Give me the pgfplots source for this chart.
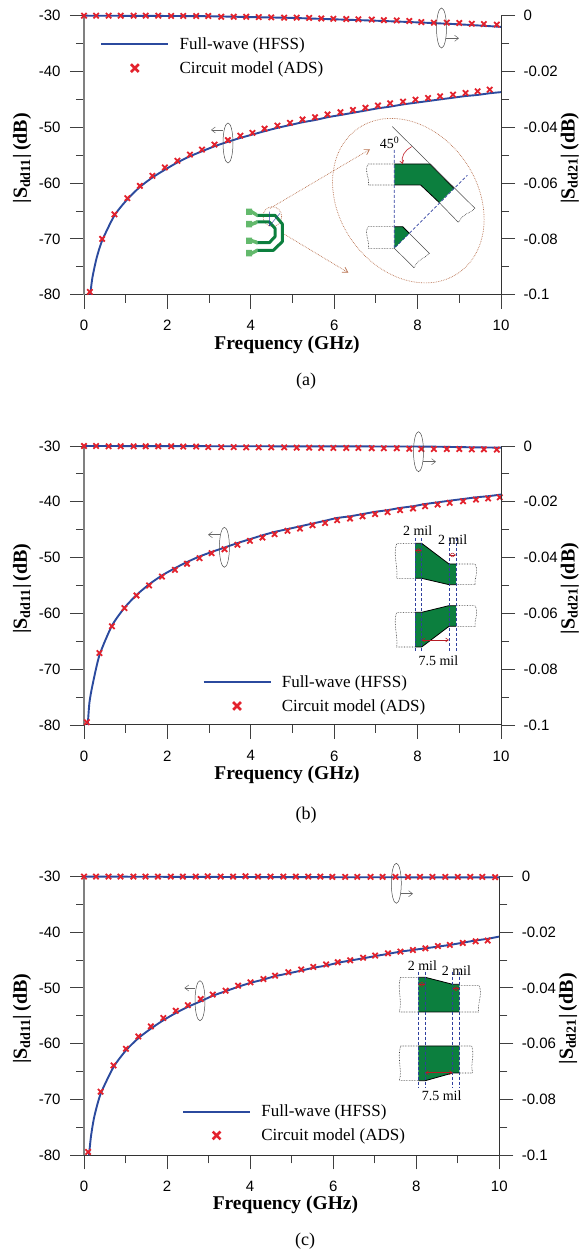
\documentclass[border=0pt]{standalone}
\usepackage{fontspec}
\usepackage{pgfplots}
\usepackage{pgfplotstable}
\pgfplotsset{compat=1.18}
\usetikzlibrary{arrows.meta}
\setmainfont{Liberation Serif}
\newfontfamily\arial{Liberation Sans}
\definecolor{wave}{HTML}{2B4A9E}
\definecolor{adsred}{HTML}{E3222D}
\definecolor{trace}{HTML}{0C7F3E}
\definecolor{pale}{HTML}{63B96C}
\definecolor{brownline}{HTML}{B8714F}
\definecolor{guide}{HTML}{2F3F9F}

% ---------- panel (a)
\pgfplotstableread[row sep=\\]{x y\\
0.15 -80\\0.2 -77\\0.3 -73.5\\0.435 -70.3\\0.73 -65.8\\1.04 -62.9\\1.34 -60.7\\1.64 -59\\1.94 -57.6\\2.24 -56.3\\2.54 -55.2\\2.83 -54.3\\3.13 -53.4\\3.45 -52.6\\3.75 -51.9\\4.04 -51.3\\4.33 -50.7\\4.64 -50.1\\4.94 -49.6\\5.24 -49.1\\5.54 -48.7\\5.84 -48.2\\6.15 -47.8\\6.45 -47.4\\6.75 -47\\7.05 -46.6\\7.34 -46.3\\7.65 -45.9\\7.95 -45.6\\8.25 -45.3\\8.54 -45\\8.85 -44.7\\9.15 -44.4\\9.44 -44.2\\9.73 -43.9\\10 -43.7\\
}\aLine
\pgfplotstableread[row sep=\\]{x y\\
0.14 -79.5\\0.435 -70\\0.73 -65.6\\1.04 -62.7\\1.34 -60.5\\1.64 -58.7\\1.94 -57.2\\2.24 -56\\2.54 -54.9\\2.83 -54\\3.13 -53.1\\3.45 -52.3\\3.75 -51.5\\4.04 -51\\4.33 -50.25\\4.64 -49.7\\4.94 -49.2\\5.24 -48.6\\5.54 -48.2\\5.84 -47.7\\6.15 -47.3\\6.45 -46.9\\6.75 -46.5\\7.05 -46.1\\7.34 -45.7\\7.65 -45.4\\7.95 -45.05\\8.25 -44.75\\8.54 -44.45\\8.85 -44.15\\9.15 -43.85\\9.44 -43.55\\9.73 -43.25\\
}\aMarks
\pgfplotstableread[row sep=\\]{x y\\
0 0\\2 -0.0001\\3 -0.0002\\4 -0.0005\\5 -0.0008\\6 -0.0013\\7 -0.0018\\8 -0.0024\\9 -0.0031\\10 -0.004\\
}\aTopLine
\pgfplotstableread[row sep=\\]{x y\\
0 0\\0.29 0\\0.59 0\\0.88 0\\1.19 0\\1.48 0\\1.78 0\\2.09 -0.0001\\2.38 -0.0001\\2.69 -0.0001\\2.98 -0.0001\\3.29 -0.0004\\3.59 -0.0004\\3.89 -0.0004\\4.19 -0.0005\\4.49 -0.0006\\4.8 -0.0007\\5.1 -0.0007\\5.4 -0.0008\\5.69 -0.001\\5.98 -0.0011\\6.29 -0.0012\\6.58 -0.0013\\6.9 -0.0014\\7.19 -0.0016\\7.5 -0.0017\\7.8 -0.0019\\8.09 -0.0023\\8.39 -0.0025\\8.7 -0.0025\\9 -0.0026\\9.3 -0.0029\\9.59 -0.003\\9.9 -0.0032\\
}\aTopMarks

% ---------- panel (b)
\pgfplotstableread[row sep=\\]{x y\\
0.09 -80\\0.13 -76\\0.2 -73\\0.37 -67.5\\0.67 -62.2\\0.97 -59\\1.26 -56.7\\1.56 -54.8\\1.87 -53.2\\2.18 -51.9\\2.47 -50.8\\2.77 -49.8\\3.06 -49\\3.37 -48.2\\3.68 -47.4\\3.98 -46.7\\4.28 -46\\4.57 -45.4\\4.88 -44.9\\5.18 -44.4\\5.48 -43.9\\5.78 -43.4\\6.07 -42.9\\6.38 -42.6\\6.68 -42.2\\6.98 -41.8\\7.28 -41.5\\7.58 -41.1\\7.89 -40.8\\8.18 -40.4\\8.48 -40.1\\8.77 -39.8\\9.09 -39.5\\9.4 -39.2\\9.69 -39\\10 -38.7\\
}\bLine
\pgfplotstableread[row sep=\\]{x y\\
0.07 -79.5\\0.37 -67.1\\0.67 -62.3\\0.97 -59.05\\1.26 -56.8\\1.56 -55\\1.87 -53.4\\2.18 -52.2\\2.47 -51.1\\2.77 -50.1\\3.06 -49.2\\3.37 -48.5\\3.68 -47.7\\3.98 -47\\4.28 -46.4\\4.57 -45.8\\4.88 -45.2\\5.18 -44.8\\5.48 -44.2\\5.78 -43.8\\6.07 -43.3\\6.38 -43\\6.68 -42.6\\6.98 -42.2\\7.28 -41.85\\7.58 -41.5\\7.89 -41.2\\8.18 -40.8\\8.48 -40.5\\8.77 -40.2\\9.09 -39.9\\9.4 -39.6\\9.69 -39.4\\9.97 -39.2\\
}\bMarks
\pgfplotstableread[row sep=\\]{x y\\
0 0\\4 -0.0001\\8 -0.0002\\9 -0.0004\\10 -0.0006\\
}\bTopLine
\pgfplotstableread[row sep=\\]{x y\\
0 0\\0.29 0\\0.59 -0.0001\\0.88 -0.0001\\1.19 -0.0001\\1.48 -0.0001\\1.78 -0.0001\\2.09 -0.0001\\2.38 -0.0002\\2.69 -0.0002\\2.98 -0.0004\\3.29 -0.0004\\3.59 -0.0004\\3.89 -0.0005\\4.19 -0.0005\\4.49 -0.0005\\4.8 -0.0005\\5.1 -0.0006\\5.4 -0.0006\\5.69 -0.0007\\5.98 -0.0007\\6.29 -0.0007\\6.58 -0.0007\\6.9 -0.0008\\7.19 -0.0008\\7.5 -0.0008\\7.8 -0.001\\8.09 -0.0011\\8.39 -0.0011\\8.7 -0.0011\\9 -0.0011\\9.3 -0.0012\\9.59 -0.0012\\9.9 -0.0013\\
}\bTopMarks

% ---------- panel (c)
\pgfplotstableread[row sep=\\]{x y\\
0.12 -80\\0.17 -76.5\\0.25 -73\\0.4 -69\\0.71 -64.2\\1.01 -61.2\\1.31 -59\\1.61 -57.3\\1.91 -55.8\\2.21 -54.5\\2.5 -53.4\\2.81 -52.4\\3.1 -51.4\\3.41 -50.6\\3.71 -49.8\\4.01 -49.1\\4.32 -48.5\\4.6 -47.9\\4.92 -47.4\\5.23 -46.9\\5.52 -46.4\\5.83 -46\\6.11 -45.5\\6.41 -45.1\\6.72 -44.7\\7.01 -44.3\\7.32 -43.9\\7.62 -43.5\\7.92 -43.2\\8.22 -42.9\\8.52 -42.6\\8.81 -42.3\\9.12 -41.9\\9.43 -41.5\\9.72 -41.2\\10 -40.8\\
}\cLine
\pgfplotstableread[row sep=\\]{x y\\
0.1 -79.4\\0.4 -68.6\\0.71 -63.9\\1.01 -60.9\\1.31 -58.7\\1.61 -56.9\\1.91 -55.4\\2.21 -54.1\\2.5 -53.1\\2.81 -52\\3.1 -51.2\\3.41 -50.5\\3.71 -49.6\\4.01 -49\\4.32 -48.4\\4.6 -47.8\\4.92 -47.2\\5.23 -46.7\\5.52 -46.25\\5.83 -45.8\\6.11 -45.4\\6.41 -45.05\\6.72 -44.6\\7.01 -44.2\\7.32 -43.8\\7.62 -43.5\\7.92 -43.2\\8.22 -42.9\\8.52 -42.5\\8.81 -42.3\\9.12 -41.95\\9.43 -41.65\\9.72 -41.5\\
}\cMarks
\pgfplotstableread[row sep=\\]{x y\\
0 -0.0001\\5 -0.0003\\10 -0.0004\\
}\cTopLine
\pgfplotstableread[row sep=\\]{x y\\
0 -0.0001\\0.29 -0.0001\\0.59 -0.0001\\0.88 -0.0001\\1.19 -0.0001\\1.48 -0.0001\\1.78 -0.0001\\2.09 -0.0001\\2.38 -0.0001\\2.69 -0.0001\\2.98 0\\3.29 -0.0001\\3.59 -0.0001\\3.89 0\\4.19 -0.0001\\4.49 -0.0001\\4.8 -0.0001\\5.1 -0.0001\\5.4 -0.0001\\5.69 -0.0001\\5.98 -0.0002\\6.29 -0.0002\\6.58 -0.0002\\6.9 -0.0002\\7.19 -0.0002\\7.5 -0.0002\\7.8 -0.0002\\8.09 -0.0002\\8.39 -0.0002\\8.7 -0.0002\\9 -0.0002\\9.3 -0.0002\\9.59 -0.0002\\9.9 -0.0003\\
}\cTopMarks

\pgfplotsset{
  chart common/.style={
    scale only axis, height=279pt, clip=false,
    xmin=0, xmax=10,
    major tick length=14pt, minor tick length=8pt,
    tick align=outside,
    xtick pos=bottom,
    every tick/.style={draw=black!75, line width=0.9pt},
    tick label style={font=\arial\fontsize{15}{15}\selectfont},
  },
  wave line/.style={wave, line width=1.9pt, no markers, forget plot, smooth, tension=0.4},
  ads marks/.style={only marks, mark=x, mark size=3.8pt, adsred, line width=1.8pt, forget plot},
  keyed/.style={
    legend cell align=left,
    legend style={draw=none, fill=none, inner sep=0pt, nodes={inner sep=0pt, anchor=west},
      font=\fontsize{17}{17}\selectfont, row sep=10.5pt},
    legend image code/.code={\path (0pt,0pt) (77pt,0pt);
      \draw[mark repeat=2,mark phase=2,##1] plot coordinates {(0pt,0pt) (33.5pt,0pt) (67pt,0pt)};},
  },
}

% #1 bottom of the axis from the page bottom, #2 axis width, #3 S11 line, #4 S11 marks,
% #5 S21 line, #6 S21 marks, #7 legend rel x, #8 legend rel y, #9 x-label rel x
\newcommand\panel[9]{%
  \begin{axis}[chart common, keyed, at={(84pt,#1)}, anchor=south west, width=#2,
    axis x line*=bottom, axis y line*=left, ytick pos=left,
    ymin=-80, ymax=-30,
    xtick={0,2,4,6,8,10}, xticklabels={0,2,4,6,8,10}, minor x tick num=1,
    ytick={-80,-70,-60,-50,-40,-30}, yticklabels={-80,-70,-60,-50,-40,-30}, minor y tick num=1,
    xticklabel style={yshift=-8pt}, yticklabel style={xshift=-6pt},
    y axis line style={-, color=black!50, line width=1.3pt},
    x axis line style={-, color=black!80, line width=1pt},
    xlabel={Frequency (GHz)}, ylabel={|S\textsubscript{dd11}|\,(dB)},
    every axis x label/.style={at={(axis description cs:#9,0)}, yshift=-50pt, anchor=center, font=\bfseries\fontsize{19.5}{19.5}\selectfont},
    every axis y label/.style={at={(axis description cs:0,0.5)}, xshift=-57pt, yshift=-3pt, rotate=90, anchor=base, font=\bfseries\fontsize{20}{20}\selectfont},
    legend style={at={(rel axis cs:#7,#8)}, anchor=north west},
  ]
    \addplot[wave line] table[x=x,y=y] {#3};
    \addplot[ads marks] table[x=x,y=y] {#4};
    \addlegendimage{wave, line width=1.9pt}
    \addlegendentry{Full-wave (HFSS)}
    \addlegendimage{only marks, mark=x, mark size=5.5pt, adsred, line width=2.6pt}
    \addlegendentry{Circuit model (ADS)}
  \end{axis}
  \begin{axis}[chart common, at={(84pt,#1)}, anchor=south west, width=#2,
    axis x line=none, axis y line*=right, ytick pos=right,
    ymin=-0.1, ymax=0,
    ytick={-0.1,-0.08,-0.06,-0.04,-0.02,0}, yticklabels={-0.1,-0.08,-0.06,-0.04,-0.02,0}, minor y tick num=1,
    yticklabel style={xshift=5pt},
    y axis line style={-, color=black!80, line width=1pt},
    ylabel={|S\textsubscript{dd21}|\,(dB)},
    every axis y label/.style={at={(axis description cs:1,0.5)}, xshift=73.5pt, yshift=-3pt, rotate=90, anchor=base, font=\bfseries\fontsize{20}{20}\selectfont},
  ]
    \addplot[wave line] table[x=x,y=y] {#5};
    \addplot[ads marks] table[x=x,y=y] {#6};
  \end{axis}%
}

\tikzset{
  note/.style={draw=black!70, line width=0.5pt},
  pointer/.style={draw=black!60, line width=0.5pt, -{Straight Barb[length=4pt,width=6pt]}},
  dots/.style={draw=black!85, line width=0.6pt, densely dotted},
  browndots/.style={draw=brownline, line width=0.7pt, densely dotted},
  bluedash/.style={draw=guide, line width=0.8pt, densely dashed},
  redarrow/.style={draw=adsred!80!black, line width=0.5pt, {Straight Barb[length=3pt,width=4pt]}-{Straight Barb[length=3pt,width=4pt]}},
  inscr/.style={font=\fontsize{14}{14}\selectfont, inner sep=0pt},
}

\begin{document}
\begin{tikzpicture}
\path[use as bounding box] (0,0) rectangle (581pt,1256pt);
\panel{961.3pt}{417pt}{\aLine}{\aMarks}{\aTopLine}{\aTopMarks}{0.038}{0.922}{0.487}
\panel{531pt}{417pt}{\bLine}{\bMarks}{\bTopLine}{\bTopMarks}{0.283}{0.178}{0.487}
\panel{100.7pt}{415.3pt}{\cLine}{\cMarks}{\cTopLine}{\cTopMarks}{0.235}{0.181}{0.485}

\begin{scope}[x=1pt, y=1pt, yscale=-1, shift={(0,-1256)}]
  % captions
  \node[font=\fontsize{18}{18}\selectfont] at (306,381) {(a)};
  \node[font=\fontsize{18}{18}\selectfont] at (306,815) {(b)};
  \node[font=\fontsize{18}{18}\selectfont] at (305,1241.5) {(c)};
  % curve call-outs
  \foreach \cx/\cy in {228/143, 441.5/28, 224.4/547.3, 418.5/451.7, 200/1000.7, 396.3/883.3}
    \draw[note] (\cx,\cy) ellipse (5 and 20);
  \draw[pointer] (223,130) -- (211,130);
  \draw[pointer] (446,38.3) -- (459,38.3);
  \draw[pointer] (220,534.7) -- (208,534.7);
  \draw[pointer] (423.3,461.7) -- (436,461.7);
  \draw[pointer] (195,988) -- (184.4,988);
  \draw[pointer] (401,893.7) -- (413,893.7);

  % inset (a): coordinates are 3x px from (220,100)
  \begin{scope}[shift={(220,100)}, scale=0.33333]
    \draw[browndots] (565,302) ellipse [x radius=264, y radius=207, rotate=55];
    \draw[browndots] (157,350) ellipse [x radius=28, y radius=30];
    \draw[browndots, -{Straight Barb[length=5pt,width=6pt]}] (150,325) -- (450,148);
    \draw[browndots, -{Straight Barb[length=5pt,width=6pt]}] (185,398) -- (385,518);
    \fill[pale] (78,326) rectangle (96,345) (78,363) rectangle (96,382) (78,413) rectangle (96,432) (78,450) rectangle (96,469);
    \fill[pale] (96,330) -- (112,340) -- (112,352) -- (96,342) -- cycle;
    \fill[pale] (96,367) -- (112,360) -- (112,372) -- (96,378) -- cycle;
    \fill[pale] (96,417) -- (112,422) -- (112,434) -- (96,428) -- cycle;
    \fill[pale] (96,454) -- (112,445) -- (112,457) -- (96,465) -- cycle;
    \draw[trace, line width=3pt, line join=round] (112,346) -- (165,346) -- (187,372) -- (187,425) -- (160,451) -- (112,451);
    \draw[trace, line width=3pt, line join=round] (112,366) -- (148,366) -- (165,385) -- (165,410) -- (148,428) -- (112,428);
    \draw[guide, line width=0.4pt] (148,335) -- (148,378) (148,378) -- (180,340);
    \fill[trace] (523,192) -- (630,192) -- (702,265) -- (658,308) -- (602,255) -- (523,255) -- cycle;
    \fill[trace] (523,380) -- (548,380) -- (568,400) -- (523,445) -- cycle;
    \draw[black, line width=0.8pt] (523,192) -- (630,192) -- (702,265) (658,308) -- (602,255) -- (523,255) (523,380) -- (548,380) -- (568,400);
    \draw[note] (517,80) -- (765,325) (658,308) -- (715,367) (568,400) -- (628,460) (523,445) -- (582,503);
    \draw[dots] (765,325) .. controls (745,345) and (735,335) .. (715,367);
    \draw[dots] (628,460) .. controls (610,480) and (600,470) .. (582,503);
    \draw[dots] (523,192) -- (445,192) .. controls (430,215) and (450,230) .. (445,255) -- (523,255);
    \draw[dots] (523,380) -- (445,380) .. controls (430,400) and (450,420) .. (445,445) -- (523,445);
    \draw[bluedash] (523,150) -- (523,445) -- (742,226);
    \draw[adsred!85!black, line width=0.6pt, -{Straight Barb[length=3pt,width=4pt]}] (575,140) .. controls (555,150) and (542,170) .. (548,192);
    \node[inscr] at (509,128) {45\textsuperscript{0}};
  \end{scope}

  % inset (b): coordinates are 3x px from (370,510)
  \begin{scope}[shift={(370,510)}, scale=0.33333]
    \fill[trace] (135,100) -- (155,100) -- (237,162) -- (258,162) -- (258,224) -- (237,224) -- (155,205) -- (135,205) -- cycle;
    \fill[trace] (135,307) -- (155,307) -- (237,287) -- (258,287) -- (258,349) -- (237,349) -- (155,411) -- (135,411) -- cycle;
    \draw[black, line width=0.8pt] (135,100) -- (155,100) -- (237,162) -- (258,162) (135,205) -- (155,205) -- (237,224) -- (258,224)
       (135,307) -- (155,307) -- (237,287) -- (258,287) (135,411) -- (155,411) -- (237,349) -- (258,349);
    \draw[dots] (135,100) -- (80,100) .. controls (68,135) and (85,170) .. (80,205) -- (135,205);
    \draw[dots] (258,162) -- (315,162) .. controls (328,185) and (312,205) .. (315,224) -- (258,224);
    \draw[dots] (135,307) -- (80,307) .. controls (68,340) and (85,380) .. (80,411) -- (135,411);
    \draw[dots] (258,287) -- (315,287) .. controls (328,310) and (312,330) .. (315,349) -- (258,349);
    \foreach \vx in {135,155,237,258} \draw[bluedash] (\vx,85) -- (\vx,430);
    \draw[redarrow] (135,122) -- (155,122);
    \draw[redarrow] (237,135) -- (258,135);
    \draw[redarrow] (155,390) -- (237,390);
    \node[inscr] at (143,62) {2 mil};
    \node[inscr] at (248,89) {2 mil};
    \node[inscr] at (205,453) {7.5 mil};
  \end{scope}

  % inset (c): coordinates are 3x px from (370,950)
  \begin{scope}[shift={(370,950)}, scale=0.33333]
    \fill[trace] (145,82) -- (166,82) -- (248,103) -- (268,103) -- (268,186) -- (145,186) -- cycle;
    \fill[trace] (145,288) -- (268,288) -- (268,369) -- (248,369) -- (166,392) -- (145,392) -- cycle;
    \draw[black, line width=0.8pt] (145,82) -- (166,82) -- (248,103) -- (268,103) (145,186) -- (268,186)
       (145,288) -- (268,288) (268,369) -- (248,369) -- (166,392) -- (145,392);
    \draw[dots] (145,82) -- (92,82) .. controls (80,115) and (98,150) .. (88,186) -- (145,186);
    \draw[dots] (268,107) -- (328,107) .. controls (338,135) and (322,160) .. (326,186) -- (268,186);
    \draw[dots] (145,288) -- (92,288) .. controls (80,325) and (98,360) .. (88,392) -- (145,392);
    \draw[dots] (268,288) -- (305,288) .. controls (315,315) and (300,345) .. (308,369) -- (268,369);
    \foreach \vx in {145,166,248,268} \draw[bluedash] (\vx,65) -- (\vx,412);
    \draw[redarrow] (145,103) -- (166,103);
    \draw[redarrow] (248,116) -- (268,116);
    \draw[redarrow] (166,368) -- (248,368);
    \node[inscr] at (157,47) {2 mil};
    \node[inscr] at (259,62) {2 mil};
    \node[inscr] at (215,438) {7.5 mil};
  \end{scope}
\end{scope}
\end{tikzpicture}
\end{document}
